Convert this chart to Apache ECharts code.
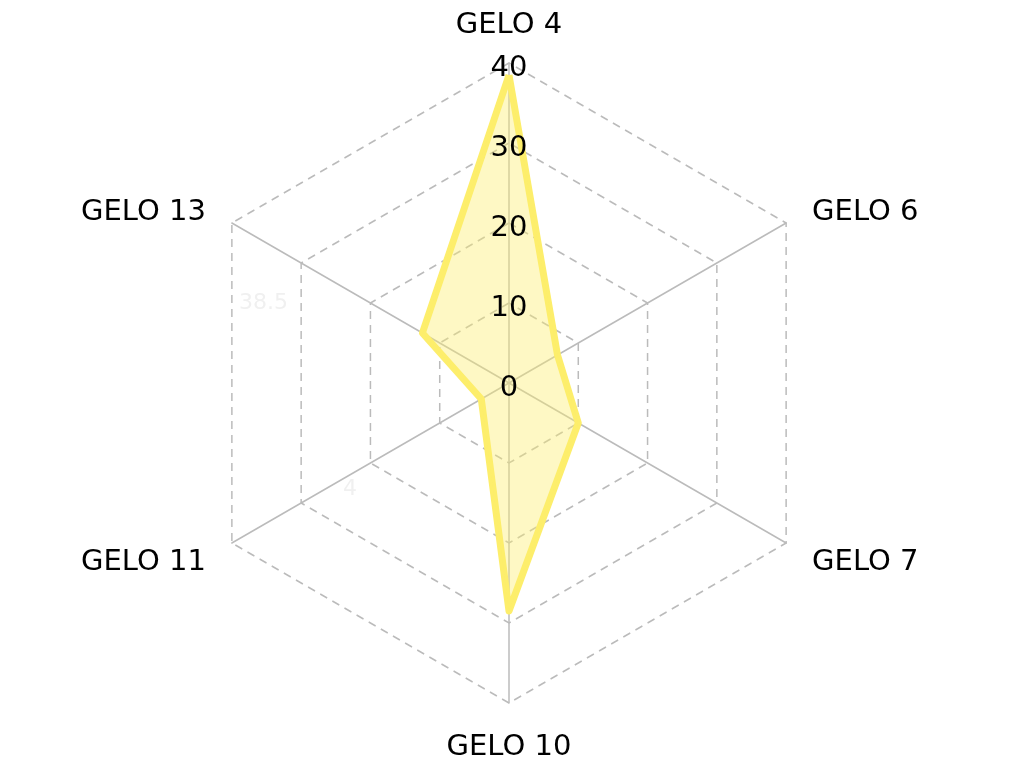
<!DOCTYPE html>
<html>
<head>
<meta charset="utf-8">
<script src="https://cdn.jsdelivr.net/npm/echarts@6/dist/echarts.min.js"></script>
<style>
html,body{margin:0;padding:0;background:#fff;}
#c{width:1024px;height:768px;}
</style>
</head>
<body>
<div id="c"></div>
<script>
// ECharts places indicators counter-clockwise from the top
const categories = ['GELO 4', 'GELO 13', 'GELO 11', 'GELO 10', 'GELO 7', 'GELO 6'];
const values = [38.5, 12.5, 4, 28.5, 10, 7];
const axisMax = 40;
const faintLabels = ['38.5', '4'];

const FONT = '"DejaVu Sans", sans-serif';
const chart = echarts.init(document.getElementById('c'));

const baseRadar = {
  center: [509, 383],
  radius: 320,
  startAngle: 90,
  splitNumber: 4,
  shape: 'polygon',
  axisTick: { show: false },
  splitArea: { show: false }
};

// radar 0: grid lines and names (below the series)
const gridIndicator = categories.map(n => ({ name: n, max: axisMax, min: 0 }));
// radar 1: only the tick labels of the first axis (above the series)
const labelIndicator = categories.map((n, i) => {
  const o = { name: '', max: axisMax, min: 0 };
  if (i === 0) {
    o.axisLabel = {
      show: true, margin: 0, color: '#000', fontSize: 29, fontFamily: FONT,
      align: 'center', verticalAlign: 'middle',
      formatter: '{t|{value}}',
      rich: { t: { color: '#000', fontSize: 29, fontFamily: FONT, padding: [10, 0, 0, 0] } }
    };
  }
  return o;
});

const nameStyle = { color: '#000', fontSize: 29, fontFamily: FONT };

chart.setOption({
  backgroundColor: '#fff',
  animation: false,
  radar: [
    Object.assign({}, baseRadar, {
      z: 1,
      indicator: gridIndicator,
      nameGap: 30,
      axisName: {
        color: '#000', fontSize: 29, fontFamily: FONT,
        formatter: function (name) {
          const idx = categories.indexOf(name);
          if (idx === 0) return '{top|' + name + '}';
          if (idx === 3) return '{bot|' + name + '}';
          return '{side|' + name + '}';
        },
        rich: {
          top: Object.assign({ lineHeight: 16 }, nameStyle),
          bot: nameStyle,
          side: Object.assign({ padding: [8, 0, 0, 0] }, nameStyle)
        }
      },
      axisLine: { show: true, lineStyle: { color: '#bbbbbb', width: 1.5 } },
      splitLine: { show: true, lineStyle: { color: '#bbbbbb', width: 1.5, type: [8, 6] } },
      axisLabel: { show: false }
    }),
    Object.assign({}, baseRadar, {
      z: 5,
      indicator: labelIndicator,
      axisName: { show: false },
      axisLine: { show: false },
      splitLine: { show: false },
      axisLabel: { show: false }
    })
  ],
  graphic: [
    { type: 'text', left: 239, top: 292, z: 10, style: { text: faintLabels[0], fill: '#f0f0f0', fontSize: 22, fontFamily: FONT } },
    { type: 'text', left: 343, top: 478, z: 10, style: { text: faintLabels[1], fill: '#f0f0f0', fontSize: 22, fontFamily: FONT } }
  ],
  series: [{
    type: 'radar',
    radarIndex: 0,
    z: 3,
    symbol: 'none',
    lineStyle: { color: '#fdee6b', width: 7, join: 'round' },
    areaStyle: { color: '#fdee6b', opacity: 0.4 },
    itemStyle: { color: '#fdee6b' },
    data: [{ value: values, name: 'GELO' }]
  }]
});
</script>
</body>
</html>
